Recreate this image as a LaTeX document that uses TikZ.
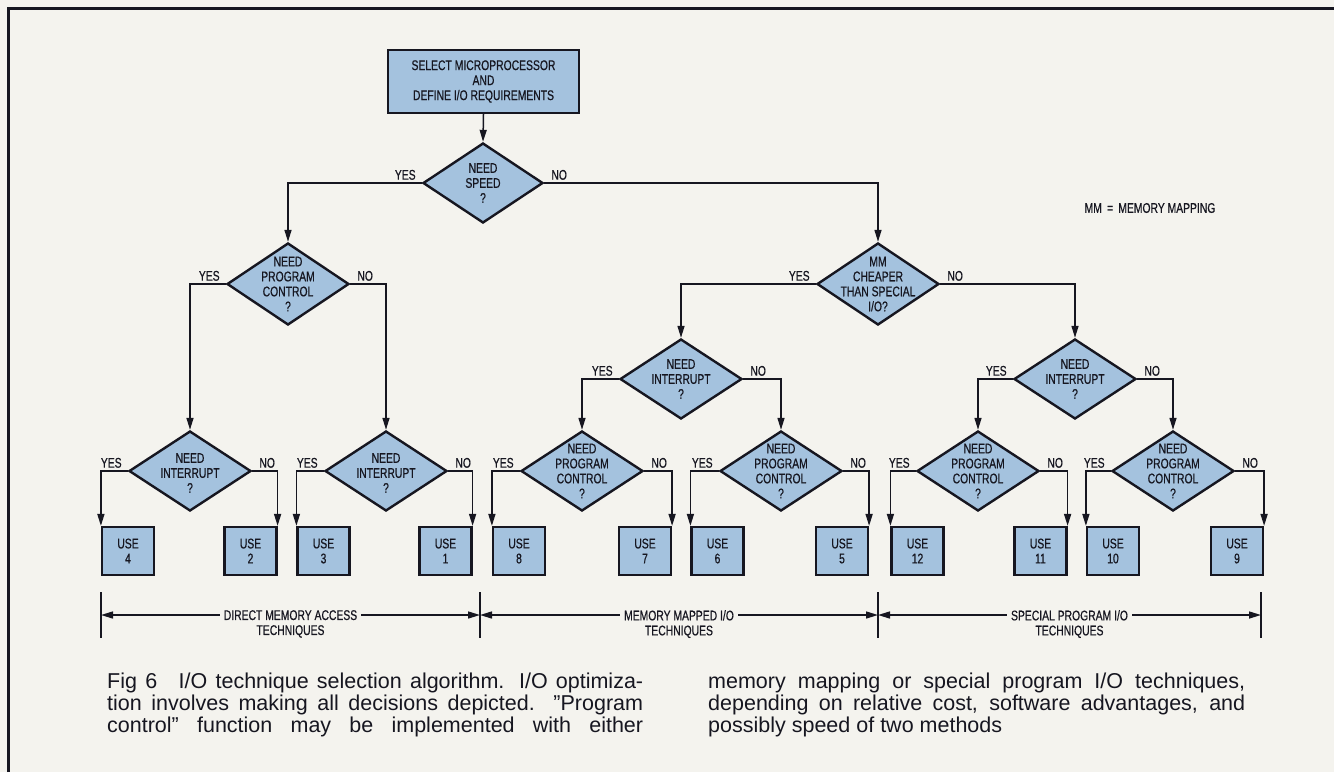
\documentclass[tikz,border=0pt]{standalone}
\usepackage{fontspec}
\setmainfont{Liberation Sans}
\newfontfamily\cond[FakeStretch=0.74,FakeBold=0.6]{Liberation Sans}
\usetikzlibrary{shapes.geometric,arrows.meta}
\definecolor{paper}{RGB}{244,243,238}
\definecolor{boxfill}{RGB}{164,194,222}
\definecolor{ink}{RGB}{22,22,32}
\begin{document}
\begin{tikzpicture}[x=1pt,y=-1pt,
  lbl/.style={font=\cond\fontsize{14}{15}\selectfont, text=ink, inner sep=0pt, align=center},
  dec/.style={diamond, draw=ink, fill=boxfill, line width=2.4pt, minimum width=122pt, minimum height=80pt, inner sep=0pt},
  usebox/.style={draw=ink, fill=boxfill, line width=2.2pt, minimum width=52pt, minimum height=48pt, lbl},
  arr/.style={draw=ink, line width=1.5pt, -{Triangle[length=12pt,width=7pt]}},
  ln/.style={draw=ink, line width=1.5pt},
  yes/.style={lbl, anchor=south east, xshift=-6pt, yshift=3pt},
  no/.style={lbl, anchor=south west, xshift=7pt, yshift=3pt},
  dim/.style={lbl, anchor=north, inner xsep=4pt},
  captxt/.style={font=\fontsize{21.5}{22}\selectfont, text=ink, inner sep=0pt, anchor=base west}
]
\fill[paper] (0,0) rectangle (1334,772);
\useasboundingbox (0,0) rectangle (1334,772);
\draw[ink, line width=3pt] (8,772) -- (8,8) -- (1334,8);

% start box
\node[draw=ink, fill=boxfill, line width=2.2pt, minimum width=191pt, minimum height=63pt, lbl]
  (start) at (483.5,81.5) {SELECT MICROPROCESSOR\\AND\\DEFINE I/O REQUIREMENTS};

% decisions
\node[dec, minimum width=120pt, label={[lbl]center:{NEED\\SPEED\\?}}] (speed) at (483,183) {};
\node[dec, minimum height=82pt, label={[lbl]center:{NEED\\PROGRAM\\CONTROL\\?}}] (pc) at (288,284) {};
\node[dec, minimum height=82pt, label={[lbl]center:{MM\\CHEAPER\\THAN SPECIAL\\I/O?}}] (mm) at (878,284) {};
\node[dec, label={[lbl]center:{NEED\\INTERRUPT\\?}}] (ig) at (681,379) {};
\node[dec, label={[lbl]center:{NEED\\INTERRUPT\\?}}] (ih) at (1075,379) {};
\node[dec, label={[lbl,yshift=-2pt]center:{NEED\\INTERRUPT\\?}}] (ia) at (190,471) {};
\node[dec, label={[lbl,yshift=-2pt]center:{NEED\\INTERRUPT\\?}}] (ib) at (386,471) {};
\node[dec, label={[lbl]center:{NEED\\PROGRAM\\CONTROL\\?}}] (pcc) at (582,471) {};
\node[dec, label={[lbl]center:{NEED\\PROGRAM\\CONTROL\\?}}] (pcd) at (781,471) {};
\node[dec, label={[lbl]center:{NEED\\PROGRAM\\CONTROL\\?}}] (pce) at (978,471) {};
\node[dec, label={[lbl]center:{NEED\\PROGRAM\\CONTROL\\?}}] (pcf) at (1173,471) {};

% use boxes
\node[usebox] (u4) at (128,551) {USE\\4};
\node[usebox] (u2) at (250.5,551) {USE\\2};
\node[usebox] (u3) at (323.5,551) {USE\\3};
\node[usebox] (u1) at (445.5,551) {USE\\1};
\node[usebox] (u8) at (519,551) {USE\\8};
\node[usebox] (u7) at (645,551) {USE\\7};
\node[usebox] (u6) at (717.5,551) {USE\\6};
\node[usebox] (u5) at (842,551) {USE\\5};
\node[usebox] (u12) at (917.5,551) {USE\\12};
\node[usebox] (u11) at (1040.5,551) {USE\\11};
\node[usebox] (u10) at (1113,551) {USE\\10};
\node[usebox] (u9) at (1237,551) {USE\\9};

% connectors
\draw[arr] (start.south) -- (speed.north);
\draw[arr] (speed.west) -| (pc.north);
\draw[arr] (speed.east) -| (mm.north);
\draw[arr] (pc.west) -| (ia.north);
\draw[arr] (pc.east) -| (ib.north);
\draw[arr] (mm.west) -| (ig.north);
\draw[arr] (mm.east) -| (ih.north);
\draw[arr] (ig.west) -| (pcc.north);
\draw[arr] (ig.east) -| (pcd.north);
\draw[arr] (ih.west) -| (pce.north);
\draw[arr] (ih.east) -| (pcf.north);
\draw[arr] (ia.west) -| (u4.north west);
\draw[arr] (ia.east) -| (u2.north east);
\draw[arr] (ib.west) -| (u3.north west);
\draw[arr] (ib.east) -| (u1.north east);
\draw[arr] (pcc.west) -| (u8.north west);
\draw[arr] (pcc.east) -| (u7.north east);
\draw[arr] (pcd.west) -| (u6.north west);
\draw[arr] (pcd.east) -| (u5.north east);
\draw[arr] (pce.west) -| (u12.north west);
\draw[arr] (pce.east) -| (u11.north east);
\draw[arr] (pcf.west) -| (u10.north west);
\draw[arr] (pcf.east) -| (u9.north east);

% yes / no labels
\foreach \d in {speed,pc,mm,ig,ih,ia,ib,pcc,pcd,pce,pcf}{
  \node[yes] (\d-y) at (\d.west) {YES};
  \node[no] (\d-n) at (\d.east) {NO};
}

\node[lbl] (mmnote) at (1150,208) {MM \,=\, MEMORY MAPPING};

% technique brackets
\coordinate (t0) at (101,615);
\coordinate (t1) at (480,615);
\coordinate (t2) at (878,615);
\coordinate (t3) at (1261,615);
\foreach \t in {t0,t1,t2,t3}{
  \draw[ln] ([yshift=23pt]\t) -- ([yshift=-23pt]\t);
}
\node[dim] (dma) at (290.5,610) {DIRECT MEMORY ACCESS\\TECHNIQUES};
\node[dim] (mmio) at (679,610) {MEMORY MAPPED I/O\\TECHNIQUES};
\node[dim] (spio) at (1069.5,610) {SPECIAL PROGRAM I/O\\TECHNIQUES};
\draw[arr] (dma.west |- t0) -- (t0);
\draw[arr] (dma.east |- t0) -- (t1);
\draw[arr] (mmio.west |- t0) -- (t1);
\draw[arr] (mmio.east |- t0) -- (t2);
\draw[arr] (spio.west |- t0) -- (t2);
\draw[arr] (spio.east |- t0) -- (t3);

% caption
\node[captxt] (cl1) at (107,688) {\makebox[536pt][s]{Fig 6\quad I/O technique selection algorithm. I/O optimiza-}};
\node[captxt] (cl2) at (107,710) {\makebox[536pt][s]{tion involves making all decisions depicted. ''Program}};
\node[captxt] (cl3) at (107,732) {\makebox[536pt][s]{control'' function may be implemented with either}};
\node[captxt] (cr1) at (708,688) {\makebox[537pt][s]{memory mapping or special program I/O techniques,}};
\node[captxt] (cr2) at (708,710) {\makebox[537pt][s]{depending on relative cost, software advantages, and}};
\node[captxt] (cr3) at (708,732) {possibly speed of two methods};
\end{tikzpicture}
\end{document}
